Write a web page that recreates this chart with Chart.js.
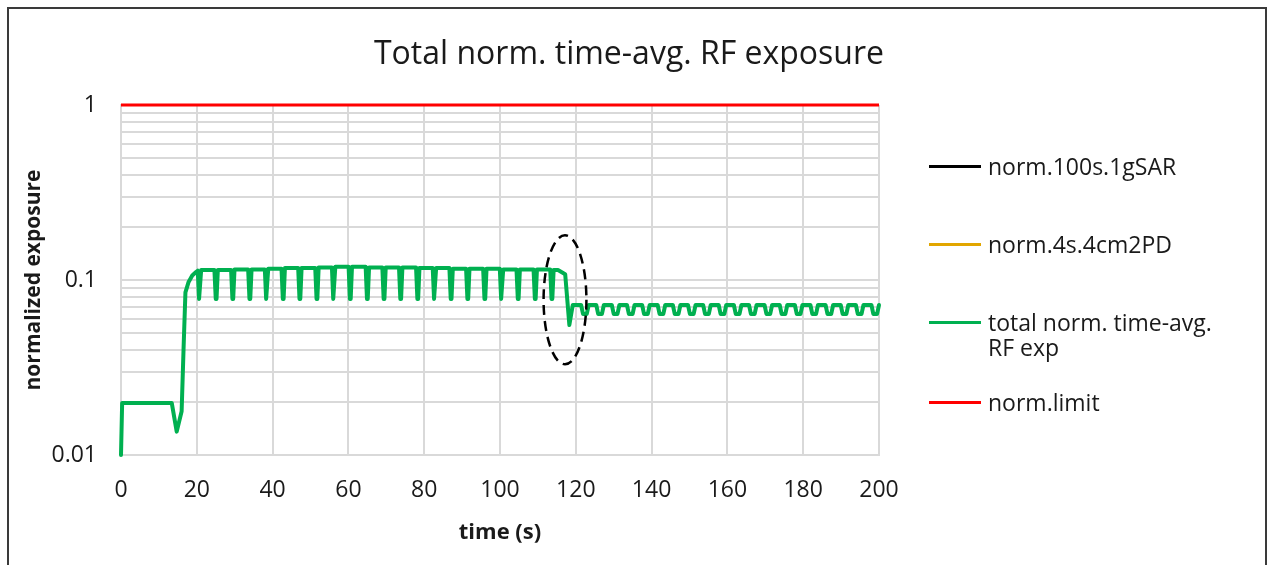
<!DOCTYPE html>
<html>
<head>
<meta charset="utf-8">
<script src="https://cdn.jsdelivr.net/npm/chart.js@4/dist/chart.umd.min.js"></script>
<style>
  html, body { margin: 0; padding: 0; background: #ffffff; }
  body { width: 1279px; height: 565px; position: relative; overflow: hidden; font-family: 'Open Sans', sans-serif; }
  #frame { position: absolute; left: 7px; top: 7px; width: 1260px; height: 620px; border: 2px solid #3a3a3a; box-sizing: border-box; }
  #c { position: absolute; left: 0; top: 0; }
  #title { position: absolute; left: 0; width: 1258px; top: 30px; text-align: center; font-size: 32px; color: #1a1a1a; line-height: 44px; white-space: nowrap; }
  .lg-line { position: absolute; left: 929px; width: 52px; height: 3px; }
  .lg-text { position: absolute; left: 988px; font-size: 23px; color: #1a1a1a; line-height: 25px; white-space: nowrap; }
</style>
</head>
<body>
<div id="frame"></div>
<canvas id="c" width="1279" height="565"></canvas>
<div id="title">Total norm. time-avg. RF exposure</div>
<div id="legend"></div>
<script>
// ---------- data ----------
const chartTitle = 'Total norm. time-avg. RF exposure';
const xAxisTitle = 'time (s)';
const yAxisTitle = 'normalized exposure';
const seriesNames = ['norm.100s.1gSAR', 'norm.4s.4cm2PD', 'total norm. time-avg. RF exp', 'norm.limit'];
const seriesColors = ['#000000', '#E2A600', '#00B050', '#FF0000'];

const xTicks = [0, 20, 40, 60, 80, 100, 120, 140, 160, 180, 200];
const yGridTicks = [0.01, 0.02, 0.03, 0.04, 0.05, 0.06, 0.07, 0.08, 0.09, 0.1, 0.2, 0.3, 0.4, 0.5, 0.6, 0.7, 0.8, 0.9, 1];
const yLabelValues = [0.01, 0.1, 1];
const yLabelTexts = ['0.01', '0.1', '1'];

// series 1 and 2: nothing visible above 0.01 in the plot
const sarTime = [];
const sarValue = [];
const pdTime = [];
const pdValue = [];

// total normalized exposure: start-up ramp
const rampTime  = [0, 0.3, 13.4, 14.7, 16.0, 16.5, 17.0, 17.8, 18.8, 19.8];
const rampValue = [0.0100, 0.0198, 0.0198, 0.0136, 0.0178, 0.040, 0.085, 0.097, 0.106, 0.111];

// pulsed section (plateau / dip bottom / dip bottom / plateau)
const pulseTime = [20.25, 20.6, 20.8, 21.15, 24.65, 25.0, 25.2, 25.55, 29.05, 29.4, 29.6, 29.95,
  33.55, 33.9, 34.1, 34.45, 37.95, 38.3, 38.5, 38.85, 42.35, 42.7, 42.9, 43.25,
  46.75, 47.1, 47.3, 47.65, 51.25, 51.6, 51.8, 52.15, 55.65, 56.0, 56.2, 56.55,
  60.05, 60.4, 60.6, 60.95, 64.55, 64.9, 65.1, 65.45, 68.95, 69.3, 69.5, 69.85,
  73.35, 73.7, 73.9, 74.25, 77.85, 78.2, 78.4, 78.75, 82.25, 82.6, 82.8, 83.15,
  86.65, 87.0, 87.2, 87.55, 91.05, 91.4, 91.6, 91.95, 95.55, 95.9, 96.1, 96.45,
  99.95, 100.3, 100.5, 100.85, 104.35, 104.7, 104.9, 105.25, 108.85, 109.2, 109.4, 109.75,
  113.25, 113.6, 113.8, 114.15];
const pulseValue = [0.113, 0.078, 0.078, 0.114, 0.114, 0.078, 0.078, 0.114, 0.114, 0.078, 0.078, 0.115,
  0.115, 0.078, 0.078, 0.115, 0.115, 0.078, 0.078, 0.116, 0.116, 0.078, 0.078, 0.117,
  0.117, 0.078, 0.078, 0.117, 0.117, 0.078, 0.078, 0.118, 0.118, 0.078, 0.078, 0.119,
  0.119, 0.078, 0.078, 0.119, 0.119, 0.078, 0.078, 0.118, 0.118, 0.078, 0.078, 0.118,
  0.118, 0.078, 0.078, 0.118, 0.118, 0.078, 0.078, 0.117, 0.117, 0.078, 0.078, 0.117,
  0.117, 0.078, 0.078, 0.116, 0.116, 0.078, 0.078, 0.116, 0.116, 0.078, 0.078, 0.116,
  0.116, 0.078, 0.078, 0.115, 0.115, 0.078, 0.078, 0.115, 0.115, 0.078, 0.078, 0.115,
  0.115, 0.078, 0.078, 0.114];

// transition (circled region)
const dropTime  = [115.3, 117.2, 118.3, 119.2];
const dropValue = [0.114, 0.108, 0.0553, 0.072];

// low-level tail
const tailTime = [121.4, 121.9, 122.9, 123.4, 125.4, 125.9, 126.9, 127.4, 129.5, 130.0, 131.0, 131.5,
  133.5, 134.0, 135.0, 135.5, 137.5, 138.0, 139.0, 139.5, 141.6, 142.1, 143.1, 143.6,
  145.6, 146.1, 147.1, 147.6, 149.6, 150.1, 151.1, 151.6, 153.6, 154.1, 155.1, 155.6,
  157.7, 158.2, 159.2, 159.7, 161.7, 162.2, 163.2, 163.7, 165.7, 166.2, 167.2, 167.7,
  169.8, 170.3, 171.3, 171.8, 173.8, 174.3, 175.3, 175.8, 177.8, 178.3, 179.3, 179.8,
  181.9, 182.4, 183.4, 183.9, 185.9, 186.4, 187.4, 187.9, 189.9, 190.4, 191.4, 191.9,
  193.9, 194.4, 195.4, 195.9, 198.0, 198.5, 199.5, 200.0];
const tailValue = [0.072, 0.064, 0.064, 0.072, 0.072, 0.064, 0.064, 0.072, 0.072, 0.064, 0.064, 0.072,
  0.072, 0.064, 0.064, 0.072, 0.072, 0.064, 0.064, 0.072, 0.072, 0.064, 0.064, 0.072,
  0.072, 0.064, 0.064, 0.072, 0.072, 0.064, 0.064, 0.072, 0.072, 0.064, 0.064, 0.072,
  0.072, 0.064, 0.064, 0.072, 0.072, 0.064, 0.064, 0.072, 0.072, 0.064, 0.064, 0.072,
  0.072, 0.064, 0.064, 0.072, 0.072, 0.064, 0.064, 0.072, 0.072, 0.064, 0.064, 0.072,
  0.072, 0.064, 0.064, 0.072, 0.072, 0.064, 0.064, 0.072, 0.072, 0.064, 0.064, 0.072,
  0.072, 0.064, 0.064, 0.072, 0.072, 0.064, 0.064, 0.072];

// limit
const limitTime = [0, 200];
const limitValue = [1, 1];

// annotation ellipse (data coordinates)
const ellipseXRange = [111.5, 122.8];
const ellipseYRange = [0.033, 0.18];

// ---------- build ----------
function pts(ts, vs) { return ts.map((t, i) => ({ x: t, y: vs[i] })); }
const totalTime = rampTime.concat(pulseTime, dropTime, tailTime);
const totalValue = rampValue.concat(pulseValue, dropValue, tailValue);

const ellipsePlugin = {
  id: 'ellipse',
  afterDatasetsDraw(chart) {
    const xs = chart.scales.x, ys = chart.scales.y, ctx = chart.ctx;
    const x1 = xs.getPixelForValue(ellipseXRange[0]), x2 = xs.getPixelForValue(ellipseXRange[1]);
    const y1 = ys.getPixelForValue(ellipseYRange[1]), y2 = ys.getPixelForValue(ellipseYRange[0]);
    ctx.save();
    ctx.beginPath();
    ctx.ellipse((x1 + x2) / 2, (y1 + y2) / 2, (x2 - x1) / 2, (y2 - y1) / 2, 0, 0, Math.PI * 2);
    ctx.setLineDash([10, 6]);
    ctx.lineWidth = 2.5;
    ctx.strokeStyle = '#000000';
    ctx.stroke();
    ctx.restore();
  }
};

const lineStyle = { pointRadius: 0, fill: false, tension: 0, clip: 6, borderJoinStyle: 'round', borderCapStyle: 'round' };

Chart.defaults.font.family = "'Open Sans', sans-serif";
new Chart(document.getElementById('c'), {
  type: 'line',
  data: {
    datasets: [
      Object.assign({ label: seriesNames[0], data: pts(sarTime, sarValue), borderColor: seriesColors[0], borderWidth: 3 }, lineStyle),
      Object.assign({ label: seriesNames[1], data: pts(pdTime, pdValue), borderColor: seriesColors[1], borderWidth: 3 }, lineStyle),
      Object.assign({ label: seriesNames[2], data: pts(totalTime, totalValue), borderColor: seriesColors[2], borderWidth: 4 }, lineStyle),
      Object.assign({ label: seriesNames[3], data: pts(limitTime, limitValue), borderColor: seriesColors[3], borderWidth: 3, borderCapStyle: 'butt' }, { pointRadius: 0, fill: false, tension: 0, clip: 6 })
    ]
  },
  options: {
    responsive: false,
    animation: false,
    events: [],
    layout: { padding: { left: 0, right: 400, top: 105, bottom: 0 } },
    plugins: { legend: { display: false }, title: { display: false }, tooltip: { enabled: false } },
    scales: {
      x: {
        type: 'linear', min: 0, max: 200,
        afterBuildTicks: (s) => { s.ticks = xTicks.map(v => ({ value: v })); },
        afterFit: (s) => { s.height = 110; },
        ticks: { font: { size: 23 }, color: '#1a1a1a', padding: 22, maxRotation: 0 },
        grid: { color: '#d9d9d9', lineWidth: 2, drawTicks: false },
        border: { color: '#d9d9d9', width: 2 },
        title: { display: true, text: xAxisTitle, font: { size: 22, weight: 'bold' }, color: '#1a1a1a', padding: { top: 0, bottom: 19 } }
      },
      y: {
        type: 'logarithmic', min: 0.01, max: 1,
        afterBuildTicks: (s) => { s.ticks = yGridTicks.map(v => ({ value: v })); },
        afterFit: (s) => { s.width = 121; },
        ticks: {
          autoSkip: false, font: { size: 23 }, color: '#1a1a1a', padding: 24,
          callback: (v) => { const i = yLabelValues.findIndex(l => Math.abs(l - v) < 1e-9); return i >= 0 ? yLabelTexts[i] : ''; }
        },
        grid: { color: '#d9d9d9', lineWidth: 2, drawTicks: false },
        border: { color: '#d9d9d9', width: 2 },
        title: { display: true, text: yAxisTitle, font: { size: 21, weight: 'bold' }, color: '#1a1a1a', padding: { top: 21, bottom: 0 } }
      }
    }
  },
  plugins: [ellipsePlugin]
});

// legend (HTML)
document.getElementById('title').textContent = chartTitle;
const legendRows = [
  { y: 166, lines: ['norm.100s.1gSAR'] },
  { y: 244, lines: ['norm.4s.4cm2PD'] },
  { y: 322, lines: ['total norm. time-avg.', 'RF exp'] },
  { y: 402, lines: ['norm.limit'] }
];
const lg = document.getElementById('legend');
legendRows.forEach((row, i) => {
  const ln = document.createElement('div');
  ln.className = 'lg-line';
  ln.style.top = (row.y - 1.5) + 'px';
  ln.style.background = seriesColors[i];
  lg.appendChild(ln);
  const tx = document.createElement('div');
  tx.className = 'lg-text';
  tx.style.top = (row.y - 12.5) + 'px';
  tx.innerHTML = row.lines.join('<br>');
  lg.appendChild(tx);
});
</script>
</body>
</html>
